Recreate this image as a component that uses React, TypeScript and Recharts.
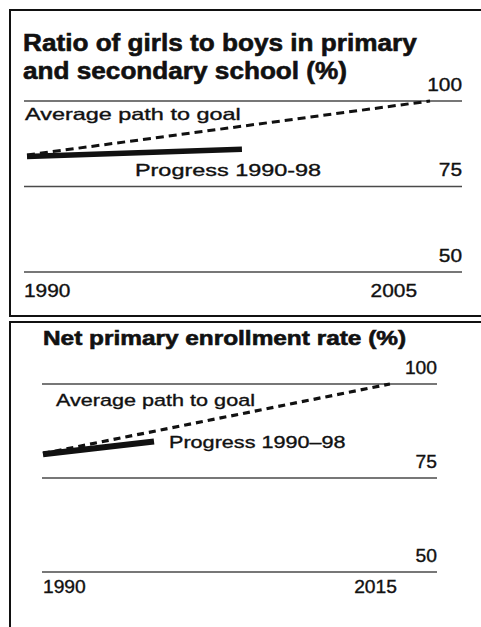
import React from 'react';
import { LineChart, Line, XAxis, YAxis, CartesianGrid } from 'recharts';

// ---------- data ----------
const yTicks = [50, 75, 100];

const ratioXTicks = [1990, 2005];
const ratioProgressYears = [1990, 1998];
const ratioProgressValues = [83.8, 85.9];
const ratioGoalYears = [1990, 2005];
const ratioGoalValues = [84.2, 100];

const enrolXTicks = [1990, 2015];
const enrolProgressYears = [1990, 1998];
const enrolProgressValues = [81.3, 84.7];
const enrolGoalYears = [1990, 2015];
const enrolGoalValues = [81.5, 100];

const ratioTitle = ['Ratio of girls to boys in primary', 'and secondary school (%)'];
const enrolTitle = ['Net primary enrollment rate (%)'];
const goalLabel = 'Average path to goal';
const ratioProgressLabel = 'Progress 1990-98';
const enrolProgressLabel = 'Progress 1990\u201398';

const toRows = (years: number[], values: number[]) =>
  years.map((year, i) => ({ year, value: values[i] }));

const FONT = "'Liberation Sans', Arial, Helvetica, sans-serif";
const INK = '#111';

function SText(props: any) {
  const { x, y, children, size, weight = 400, stretch = 1, anchor = 'start', heavy = 0.35 } = props;
  return (
    <text
      transform={`translate(${x},${y}) scale(${stretch},1)`}
      textAnchor={anchor}
      fontFamily={FONT}
      fontSize={size}
      fontWeight={weight}
      fill={INK}
      stroke={INK}
      strokeWidth={heavy}
    >
      {children}
    </text>
  );
}

const Y_AXIS_W = 12;

const panels = [
  {
    key: 'ratio',
    top: 0,
    height: 316,
    margin: { top: 101, right: 19 - Y_AXIS_W, bottom: 14, left: 24 },
    xDomain: [1989.888, 2006.19],
    xTicks: ratioXTicks,
    progress: toRows(ratioProgressYears, ratioProgressValues),
    goal: toRows(ratioGoalYears, ratioGoalValues),
    progressLabel: ratioProgressLabel,
    tickSize: 18.5,
    tickStretch: 1.13,
    yLabelDy: -10.5,
    xLabelDy: 25,
    xFirstDx: -3,
    xLastDx: -13,
    annSize: 16.5,
    annStretch: 1.42,
    goalAnn: { dx: -2, dy: -35 },
    progAnn: { dx: -107, dy: 27 },
    solidWidth: 5.5,
    dashWidth: 3,
    dash: '8 5',
  },
  {
    key: 'enrol',
    top: 320,
    height: 307,
    margin: { top: 64, right: 44 - Y_AXIS_W, bottom: 25, left: 42 },
    xDomain: [1989.93, 2018.39],
    xTicks: enrolXTicks,
    progress: toRows(enrolProgressYears, enrolProgressValues),
    goal: toRows(enrolGoalYears, enrolGoalValues),
    progressLabel: enrolProgressLabel,
    tickSize: 17.5,
    tickStretch: 1.1,
    yLabelDy: -10,
    xLabelDy: 21,
    xFirstDx: 0,
    xLastDx: 7,
    annSize: 16.5,
    annStretch: 1.31,
    goalAnn: { dx: 13, dy: -48 },
    progAnn: { dx: 15, dy: 6 },
    solidWidth: 6,
    dashWidth: 3.2,
    dash: '7 5',
  },
];

function Panel({ cfg }: any) {
  const renderXTick = (p: any) => {
    const v = p.payload.value;
    const isFirst = v === cfg.xTicks[0];
    return (
      <SText
        x={p.x + (isFirst ? cfg.xFirstDx : cfg.xLastDx)}
        y={p.y + cfg.xLabelDy}
        anchor={isFirst ? 'start' : 'end'}
        size={cfg.tickSize}
        stretch={cfg.tickStretch}
      >
        {v}
      </SText>
    );
  };
  const renderYTick = (p: any) => (
    <SText
      x={p.x}
      y={p.y + cfg.yLabelDy}
      anchor="end"
      size={cfg.tickSize}
      stretch={cfg.tickStretch}
    >
      {p.payload.value}
    </SText>
  );
  const progressDot = (p: any) => {
    if (p.index !== cfg.progress.length - 1) return <g key={`pd-${p.index}`} />;
    return (
      <g key={`pd-${p.index}`}>
        <SText x={p.cx + cfg.progAnn.dx} y={p.cy + cfg.progAnn.dy} size={cfg.annSize} stretch={cfg.annStretch}>
          {cfg.progressLabel}
        </SText>
      </g>
    );
  };
  const goalDot = (p: any) => {
    if (p.index !== 0) return <g key={`gd-${p.index}`} />;
    return (
      <g key={`gd-${p.index}`}>
        <SText x={p.cx + cfg.goalAnn.dx} y={p.cy + cfg.goalAnn.dy} size={cfg.annSize} stretch={cfg.annStretch}>
          {goalLabel}
        </SText>
      </g>
    );
  };
  return (
    <LineChart width={481} height={cfg.height} margin={cfg.margin}>
      <CartesianGrid vertical={false} stroke="#4a4a4a" strokeWidth={1.6} />
      <XAxis
        type="number"
        dataKey="year"
        domain={cfg.xDomain}
        ticks={cfg.xTicks}
        interval={0}
        allowDataOverflow
        axisLine={false}
        tickLine={false}
        tickSize={0}
        tickMargin={0}
        height={30}
        tick={renderXTick}
      />
      <YAxis
        type="number"
        orientation="right"
        width={Y_AXIS_W}
        domain={[50, 100]}
        ticks={yTicks}
        interval={0}
        axisLine={false}
        tickLine={false}
        tickSize={0}
        tickMargin={0}
        tick={renderYTick}
      />
      <Line
        data={cfg.progress}
        dataKey="value"
        type="linear"
        stroke={INK}
        strokeWidth={cfg.solidWidth}
        strokeLinecap="butt"
        dot={progressDot}
        activeDot={false}
        isAnimationActive={false}
      />
      <Line
        data={cfg.goal}
        dataKey="value"
        type="linear"
        stroke={INK}
        strokeWidth={cfg.dashWidth}
        strokeDasharray={cfg.dash}
        dot={goalDot}
        activeDot={false}
        isAnimationActive={false}
      />
    </LineChart>
  );
}

export default function App() {
  return (
    <div style={{ position: 'absolute', left: 0, top: 0, width: 481, height: 627, background: '#fff', overflow: 'hidden' }}>
      <div style={{ position: 'absolute', left: 9, top: 9, width: 490, height: 304, borderTop: `2px solid ${INK}`, borderLeft: `2px solid ${INK}`, borderBottom: `2px solid ${INK}` }} />
      <div style={{ position: 'absolute', left: 9, top: 321, width: 490, height: 400, borderTop: `2px solid ${INK}`, borderLeft: `2px solid ${INK}` }} />
      {panels.map((cfg) => (
        <div key={cfg.key} style={{ position: 'absolute', left: 0, top: cfg.top, width: 481, height: cfg.height }}>
          <Panel cfg={cfg} />
        </div>
      ))}
      <svg style={{ position: 'absolute', left: 0, top: 0 }} width={481} height={627}>
        <SText x={23} y={51} size={24} weight={700} stretch={1.09} heavy={0.6}>{ratioTitle[0]}</SText>
        <SText x={23} y={79} size={24} weight={700} stretch={1.09} heavy={0.6}>{ratioTitle[1]}</SText>
        <SText x={43} y={345} size={20.5} weight={700} stretch={1.19} heavy={0.6}>{enrolTitle[0]}</SText>
      </svg>
    </div>
  );
}
